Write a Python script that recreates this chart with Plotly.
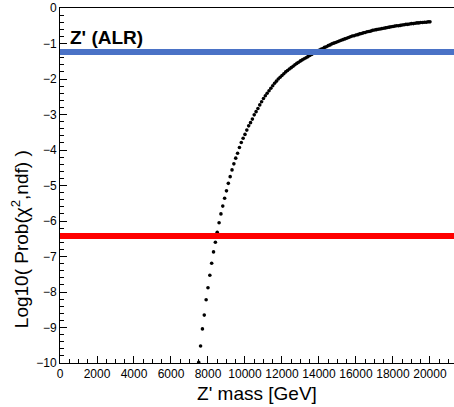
import plotly.graph_objects as go

# Z' mass points (GeV) and log10 probability values
mass = list(range(7500, 20001, 100))
log_prob = [
    -9.98, -9.52, -9.04, -8.65, -8.22, -7.88, -7.53, -7.19, -6.87, -6.60,
    -6.32, -6.05, -5.80, -5.58, -5.36, -5.15, -4.94, -4.75, -4.56, -4.39,
    -4.23, -4.09, -3.93, -3.79, -3.67, -3.56, -3.44, -3.32, -3.23, -3.13,
    -3.01, -2.92, -2.83, -2.73, -2.64, -2.55, -2.47, -2.40, -2.33, -2.26,
    -2.19, -2.12, -2.06, -2.00, -1.95, -1.90, -1.85, -1.80, -1.76, -1.72,
    -1.68, -1.64, -1.60, -1.56, -1.53, -1.49, -1.46, -1.43, -1.40, -1.37,
    -1.34, -1.31, -1.28, -1.25, -1.22, -1.19, -1.16, -1.14, -1.11, -1.09,
    -1.06, -1.04, -1.01, -0.99, -0.97, -0.95, -0.93, -0.91, -0.89, -0.87,
    -0.85, -0.83, -0.81, -0.79, -0.78, -0.76, -0.75, -0.73, -0.72, -0.70,
    -0.69, -0.67, -0.66, -0.65, -0.63, -0.62, -0.61, -0.60, -0.59, -0.58,
    -0.57, -0.56, -0.55, -0.54, -0.53, -0.52, -0.51, -0.50, -0.50, -0.49,
    -0.48, -0.47, -0.46, -0.46, -0.45, -0.44, -0.44, -0.43, -0.42, -0.42,
    -0.41, -0.41, -0.40, -0.40, -0.39, -0.39,
]
n = min(len(mass), len(log_prob))
mass = mass[:n]
log_prob = log_prob[:n]

blue_level = -1.24
red_level = -6.42

x_ticks = list(range(0, 20001, 2000))
y_ticks = list(range(-10, 1, 1))

FONT = "Liberation Sans, Arial, Helvetica, sans-serif"

fig = go.Figure()
fig.add_trace(go.Scatter(
    x=mass, y=log_prob, mode="markers",
    marker=dict(color="black", size=3.6, symbol="circle"),
    showlegend=False, cliponaxis=True,
))

fig.add_shape(type="line", xref="paper", x0=0, x1=1, yref="y",
              y0=blue_level, y1=blue_level,
              line=dict(color="#4a72c6", width=6), layer="above")
fig.add_shape(type="line", xref="paper", x0=0, x1=1, yref="y",
              y0=red_level, y1=red_level,
              line=dict(color="#ff0000", width=6), layer="above")

fig.add_annotation(text="<b>Z' (ALR)</b>", xref="paper", yref="paper",
                   x=0.02, y=0.918, xanchor="left", yanchor="middle",
                   showarrow=False, font=dict(family=FONT, size=19, color="black"))

fig.add_annotation(text="Log10( Prob(χ<sup>2</sup>,ndf) )", xref="paper", yref="paper",
                   x=-0.101, y=0.093, xanchor="center", yanchor="bottom",
                   textangle=-90, showarrow=False,
                   font=dict(family=FONT, size=19, color="black"))

fig.update_layout(
    width=454, height=407,
    margin=dict(l=60, r=0, t=8, b=44),
    paper_bgcolor="white", plot_bgcolor="white",
    font=dict(family=FONT, color="black"),
    xaxis=dict(
        range=[0, 21300], tickvals=x_ticks, ticktext=[str(v) for v in x_ticks],
        ticks="inside", ticklen=7, tickwidth=1, tickcolor="black",
        minor=dict(dtick=500, ticks="inside", ticklen=4, tickcolor="black"),
        showline=True, linecolor="black", linewidth=1, mirror=True,
        showgrid=False, zeroline=False,
        tickfont=dict(family=FONT, size=12, color="black"),
        title=dict(text="Z' mass [GeV]", font=dict(family=FONT, size=19, color="black"), standoff=6),
    ),
    yaxis=dict(
        range=[-10, 0], tickvals=y_ticks,
        ticktext=[("\u2212" + str(-v)) if v < 0 else str(v) for v in y_ticks],
        ticks="inside", ticklen=7, tickwidth=1, tickcolor="black",
        minor=dict(dtick=0.2, ticks="inside", ticklen=4, tickcolor="black"),
        showline=True, linecolor="black", linewidth=1, mirror=False,
        showgrid=False, zeroline=False,
        tickfont=dict(family=FONT, size=12, color="black"),
    ),
)

fig.write_html("out.html")
